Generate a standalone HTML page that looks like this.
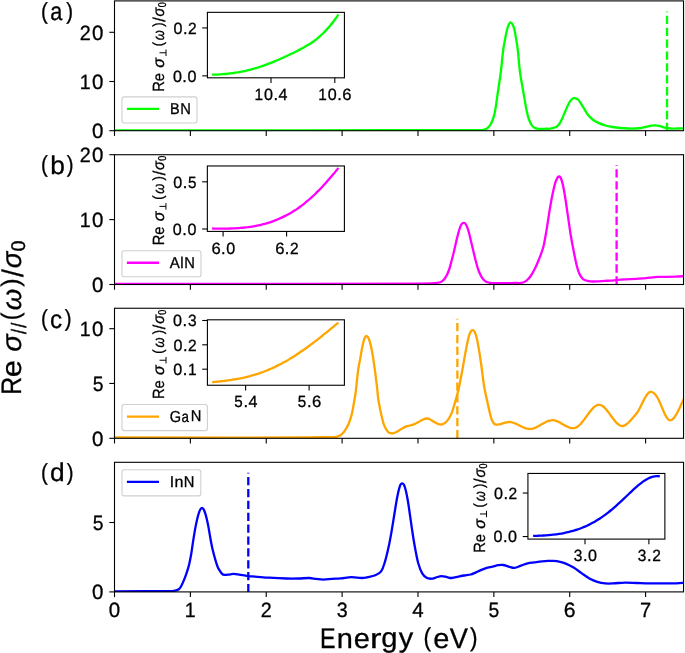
<!DOCTYPE html>
<html><head><meta charset="utf-8"><style>
html,body{margin:0;padding:0;background:#fff;overflow:hidden}
svg{display:block;will-change:transform}
text{font-family:"Liberation Sans", sans-serif;fill:#000;stroke:#000;stroke-width:0.3px;font-kerning:none;text-rendering:geometricPrecision}
</style></head><body>
<svg width="685" height="653" viewBox="0 0 685 653">
<defs><clipPath id="cp0"><rect x="114.50" y="0.90" width="569.03" height="129.80"/></clipPath><clipPath id="cp1"><rect x="114.50" y="154.72" width="569.03" height="129.78"/></clipPath><clipPath id="cp2"><rect x="114.50" y="308.25" width="569.03" height="130.05"/></clipPath><clipPath id="cp3"><rect x="114.50" y="462.30" width="569.03" height="129.60"/></clipPath></defs>
<rect width="685" height="653" fill="#fff"/>
<path d="M114.50,130.30 C145.42,130.30 238.17,130.32 300.00,130.30 C356.67,130.28 413.33,130.26 470.00,130.20 C472.67,130.20 475.33,130.18 478.00,130.10 C479.83,130.05 481.70,130.08 483.50,129.80 C484.53,129.64 485.60,129.30 486.50,128.80 C487.23,128.40 487.80,127.70 488.40,127.10 C489.07,126.43 489.83,125.81 490.30,125.00 C491.30,123.28 492.13,121.39 492.80,119.50 C493.66,117.06 494.43,114.55 494.90,112.00 C496.13,105.38 496.91,98.67 497.90,92.00 C498.86,85.50 499.93,79.02 500.75,72.50 C501.69,65.02 502.24,57.48 503.20,50.00 C503.63,46.65 504.28,43.32 504.90,40.00 C505.53,36.66 506.12,33.29 506.95,30.00 C507.42,28.16 507.96,26.27 508.80,24.60 C509.21,23.77 510.07,22.50 510.70,22.50 C511.33,22.50 512.18,23.77 512.60,24.60 C513.45,26.27 514.06,28.15 514.50,30.00 C515.29,33.28 515.75,36.66 516.30,40.00 C516.85,43.33 517.41,46.65 517.80,50.00 C518.66,57.49 519.06,65.03 520.05,72.50 C520.91,79.03 522.22,85.50 523.35,92.00 C524.51,98.67 525.54,105.37 526.90,112.00 C527.42,114.54 528.12,117.07 529.00,119.50 C529.69,121.40 530.54,123.30 531.60,125.00 C532.20,125.97 533.07,126.86 534.00,127.50 C534.87,128.10 535.95,128.50 537.00,128.70 C538.62,129.00 540.33,129.00 542.00,129.00 C543.33,129.00 544.66,128.75 546.00,128.70 C547.36,128.65 548.76,128.91 550.10,128.70 C552.03,128.39 553.96,127.78 555.81,127.14 C556.31,126.97 556.77,126.62 557.16,126.26 C558.00,125.49 558.86,124.67 559.51,123.73 C560.34,122.53 560.97,121.18 561.60,119.86 C562.35,118.31 562.97,116.70 563.65,115.11 C564.37,113.43 565.05,111.74 565.78,110.06 C566.47,108.47 567.14,106.86 567.90,105.31 C568.55,103.99 569.19,102.65 570.02,101.44 C570.65,100.51 571.41,99.59 572.28,98.91 C572.85,98.46 573.64,98.28 574.34,98.03 C574.48,97.98 574.66,97.94 574.80,98.00 C575.88,98.43 577.14,98.74 578.00,99.50 C579.18,100.54 580.01,102.05 580.90,103.40 C582.14,105.28 583.22,107.28 584.40,109.20 C585.55,111.08 586.54,113.09 587.90,114.80 C589.27,116.52 590.86,118.16 592.60,119.50 C594.36,120.86 596.38,121.95 598.40,122.90 C600.65,123.95 603.02,124.80 605.40,125.50 C607.68,126.17 610.05,126.60 612.40,127.00 C614.98,127.44 617.59,127.76 620.20,128.00 C622.92,128.26 625.66,128.41 628.40,128.50 C630.73,128.58 633.07,128.59 635.40,128.50 C637.34,128.42 639.29,128.31 641.20,128.00 C643.16,127.68 645.06,127.04 647.00,126.60 C648.56,126.24 650.12,125.83 651.70,125.60 C652.85,125.43 654.04,125.32 655.20,125.40 C656.78,125.52 658.36,125.84 659.90,126.20 C661.49,126.57 663.01,127.25 664.60,127.60 C666.51,128.02 668.45,128.36 670.40,128.50 C672.72,128.66 675.07,128.53 677.40,128.50 C679.60,128.47 682.90,128.33 684.00,128.30" fill="none" stroke="#00ff00" stroke-width="2.30" stroke-linejoin="round" clip-path="url(#cp0)"/>
<path d="M114.50,283.80 C145.42,283.80 238.17,283.84 300.00,283.80 C340.00,283.77 380.00,283.69 420.00,283.60 C423.33,283.59 426.67,283.63 430.00,283.50 C432.47,283.40 434.99,283.37 437.40,282.90 C439.09,282.57 440.93,282.08 442.30,281.10 C443.77,280.05 444.94,278.39 445.90,276.80 C447.18,274.69 448.16,272.34 449.00,270.00 C449.99,267.24 450.64,264.34 451.40,261.50 C452.27,258.24 453.11,254.98 453.90,251.70 C454.74,248.21 455.46,244.69 456.30,241.20 C457.09,237.92 457.84,234.63 458.80,231.40 C459.47,229.13 460.06,226.68 461.20,224.70 C461.69,223.84 462.87,222.90 463.70,222.90 C464.51,222.90 465.62,223.86 466.10,224.70 C467.25,226.70 467.92,229.12 468.60,231.40 C469.56,234.62 470.21,237.93 471.00,241.20 C471.84,244.70 472.66,248.20 473.50,251.70 C474.29,254.97 475.03,258.25 475.90,261.50 C476.66,264.35 477.39,267.23 478.40,270.00 C479.25,272.33 480.22,274.69 481.50,276.80 C482.46,278.39 483.63,280.05 485.10,281.10 C486.47,282.08 488.30,282.66 490.00,282.90 C493.26,283.36 496.67,283.19 500.00,283.20 C505.10,283.22 510.20,283.07 515.30,283.00 C517.33,282.97 519.40,283.15 521.40,282.90 C522.54,282.75 523.66,282.29 524.70,281.80 C525.50,281.42 526.27,280.89 526.91,280.27 C528.34,278.88 529.78,277.41 530.91,275.76 C532.46,273.50 533.75,271.02 534.96,268.55 C536.48,265.45 537.83,262.26 539.10,259.04 C540.56,255.34 542.07,251.62 543.13,247.79 C544.24,243.76 544.85,239.58 545.60,235.46 C546.37,231.24 547.02,226.99 547.70,222.75 C548.36,218.64 548.93,214.52 549.60,210.42 C550.21,206.66 550.86,202.91 551.56,199.17 C552.16,195.99 552.78,192.81 553.51,189.66 C554.07,187.24 554.65,184.81 555.41,182.44 C555.90,180.90 556.49,179.34 557.26,177.94 C557.59,177.33 558.19,176.85 558.71,176.41 C558.83,176.30 559.04,176.30 559.20,176.30 C559.33,176.30 559.51,176.31 559.60,176.41 C560.03,176.85 560.51,177.34 560.77,177.91 C561.40,179.32 561.87,180.84 562.27,182.34 C562.89,184.68 563.37,187.05 563.82,189.43 C564.41,192.53 564.91,195.66 565.40,198.78 C565.98,202.46 566.50,206.15 567.03,209.83 C567.62,213.87 568.17,217.92 568.76,221.96 C569.37,226.12 569.93,230.30 570.61,234.45 C571.28,238.50 572.05,242.54 572.81,246.57 C573.51,250.26 574.21,253.95 574.98,257.63 C575.64,260.75 576.24,263.90 577.09,266.97 C577.75,269.38 578.46,271.82 579.50,274.07 C580.23,275.66 581.28,277.16 582.40,278.49 C582.95,279.14 583.70,279.70 584.50,280.00 C586.30,280.67 588.27,281.19 590.20,281.40 C592.57,281.66 595.00,281.50 597.40,281.40 C599.94,281.30 602.46,280.94 605.00,280.80 C606.80,280.70 608.60,280.81 610.40,280.70 C612.40,280.58 614.40,280.27 616.40,280.10 C619.56,279.83 622.73,279.61 625.90,279.40 C629.30,279.18 632.70,279.02 636.10,278.80 C639.50,278.58 642.91,278.42 646.30,278.10 C648.28,277.92 650.23,277.50 652.20,277.30 C654.13,277.10 656.06,276.97 658.00,276.90 C660.93,276.80 663.87,276.85 666.80,276.80 C669.70,276.75 672.60,276.70 675.50,276.60 C678.33,276.50 682.58,276.27 684.00,276.20" fill="none" stroke="#ff00ff" stroke-width="2.30" stroke-linejoin="round" clip-path="url(#cp1)"/>
<path d="M114.50,437.50 C145.42,437.50 238.17,437.61 300.00,437.50 C310.00,437.48 320.00,437.24 330.00,437.10 C332.00,437.07 334.04,437.24 336.00,437.00 C337.00,436.88 337.97,436.42 338.90,436.00 C339.77,435.60 340.70,435.20 341.39,434.55 C342.74,433.29 343.99,431.82 345.02,430.27 C346.46,428.11 347.78,425.82 348.79,423.43 C350.02,420.53 350.96,417.46 351.73,414.40 C352.62,410.90 353.14,407.29 353.77,403.73 C354.46,399.84 355.17,395.94 355.71,392.03 C356.26,388.02 356.59,383.99 357.05,379.97 C357.49,376.07 357.84,372.15 358.42,368.27 C358.96,364.69 359.77,361.16 360.42,357.60 C360.97,354.60 361.43,351.58 362.00,348.58 C362.44,346.29 362.87,343.99 363.46,341.73 C363.84,340.28 364.29,338.81 364.90,337.45 C365.15,336.90 365.61,336.43 366.02,336.00 C366.11,335.91 366.27,335.90 366.40,335.90 C366.55,335.90 366.73,335.90 366.84,336.00 C367.29,336.39 367.80,336.83 368.09,337.37 C368.76,338.63 369.29,340.01 369.71,341.38 C370.36,343.49 370.86,345.66 371.32,347.82 C371.92,350.63 372.40,353.47 372.87,356.30 C373.42,359.64 373.92,362.98 374.39,366.33 C374.91,369.99 375.37,373.66 375.83,377.33 C376.30,381.10 376.76,384.88 377.19,388.66 C377.60,392.32 377.82,396.01 378.35,399.66 C378.84,403.02 379.55,406.36 380.23,409.69 C380.81,412.53 381.44,415.36 382.12,418.17 C382.65,420.33 383.13,422.52 383.86,424.61 C384.35,426.01 385.09,427.32 385.78,428.63 C386.03,429.11 386.37,429.55 386.70,429.99 C387.38,430.88 387.91,432.02 388.80,432.60 C389.65,433.16 390.87,433.13 391.90,433.40 C392.03,433.43 392.17,433.54 392.30,433.50 C393.67,433.07 395.09,432.63 396.40,432.00 C397.79,431.33 399.06,430.39 400.40,429.60 C401.96,428.69 403.45,427.62 405.10,426.90 C406.59,426.25 408.23,425.97 409.80,425.50 C411.37,425.03 412.99,424.71 414.50,424.10 C415.89,423.54 417.18,422.72 418.50,422.00 C419.88,421.25 421.17,420.31 422.60,419.70 C423.90,419.14 425.33,418.54 426.70,418.50 C427.87,418.47 429.11,419.00 430.20,419.50 C431.64,420.16 432.90,421.22 434.30,422.00 C435.64,422.75 436.96,423.65 438.40,424.10 C439.50,424.45 440.80,424.64 441.90,424.40 C443.13,424.14 444.42,423.43 445.40,422.60 C446.75,421.46 447.93,420.00 448.90,418.50 C450.06,416.70 451.03,414.71 451.80,412.70 C452.96,409.68 453.80,406.52 454.70,403.40 C456.00,398.92 457.35,394.44 458.40,389.90 C459.81,383.81 460.94,377.65 462.10,371.50 C463.37,364.78 464.37,358.01 465.70,351.30 C466.80,345.74 467.65,340.00 469.40,334.70 C469.98,332.94 471.62,330.10 472.70,330.10 C473.76,330.10 475.22,332.97 475.80,334.70 C477.18,338.81 477.83,343.27 478.60,347.60 C479.69,353.70 480.52,359.86 481.40,366.00 C482.36,372.73 482.98,379.50 484.10,386.20 C485.01,391.67 486.33,397.08 487.50,402.50 C488.33,406.31 489.15,410.12 490.10,413.90 C490.62,415.96 491.07,418.07 491.90,420.00 C492.54,421.48 493.46,422.98 494.50,424.13 C494.83,424.49 495.49,424.44 496.00,424.52 C496.49,424.60 497.00,424.62 497.50,424.61 C498.00,424.59 498.50,424.53 499.00,424.45 C499.50,424.37 500.00,424.25 500.50,424.12 C501.00,423.99 501.50,423.83 502.00,423.67 C502.50,423.52 503.00,423.34 503.50,423.18 C504.00,423.02 504.50,422.85 505.00,422.70 C505.50,422.56 506.00,422.42 506.50,422.31 C507.00,422.20 507.50,422.10 508.00,422.05 C508.50,422.00 509.00,421.99 509.50,422.01 C510.00,422.03 510.50,422.09 511.00,422.17 C511.50,422.25 512.01,422.37 512.50,422.51 C513.01,422.65 513.51,422.81 514.00,422.99 C514.51,423.18 515.01,423.38 515.50,423.59 C516.01,423.81 516.50,424.04 517.00,424.28 C517.50,424.51 518.00,424.76 518.50,425.01 C519.00,425.26 519.50,425.52 520.00,425.77 C520.50,426.02 521.00,426.27 521.50,426.51 C522.00,426.75 522.50,426.99 523.00,427.21 C523.50,427.43 523.99,427.64 524.50,427.84 C524.99,428.02 525.49,428.20 526.00,428.36 C526.49,428.50 526.99,428.64 527.50,428.74 C527.99,428.84 528.50,428.91 529.00,428.95 C529.50,428.99 530.00,428.99 530.50,428.96 C531.00,428.93 531.51,428.86 532.00,428.76 C532.51,428.66 533.01,428.53 533.50,428.38 C534.01,428.22 534.51,428.03 535.00,427.84 C535.51,427.63 536.01,427.40 536.50,427.17 C537.01,426.93 537.50,426.67 538.00,426.41 C538.50,426.14 539.00,425.86 539.50,425.58 C540.00,425.30 540.50,425.01 541.00,424.72 C541.50,424.43 542.00,424.14 542.50,423.86 C543.00,423.57 543.50,423.29 544.00,423.02 C544.50,422.75 544.99,422.48 545.50,422.23 C545.99,421.99 546.49,421.75 547.00,421.54 C547.49,421.33 547.99,421.13 548.50,420.96 C548.99,420.79 549.49,420.64 550.00,420.52 C550.49,420.41 551.00,420.32 551.50,420.27 C552.00,420.22 552.50,420.20 553.00,420.22 C553.50,420.24 554.01,420.31 554.50,420.40 C555.01,420.50 555.51,420.64 556.00,420.80 C556.51,420.97 557.01,421.17 557.50,421.38 C558.01,421.60 558.51,421.84 559.00,422.10 C559.51,422.35 560.00,422.63 560.50,422.91 C561.00,423.19 561.50,423.49 562.00,423.78 C562.50,424.07 563.00,424.38 563.50,424.67 C564.00,424.96 564.50,425.26 565.00,425.54 C565.50,425.82 565.99,426.09 566.50,426.35 C566.99,426.60 567.49,426.84 568.00,427.06 C568.49,427.27 568.99,427.47 569.50,427.63 C569.99,427.79 570.49,427.92 571.00,428.02 C571.49,428.11 572.00,428.18 572.50,428.19 C573.00,428.21 573.51,428.19 574.00,428.11 C574.51,428.03 575.02,427.90 575.50,427.73 C576.02,427.54 576.53,427.29 577.00,427.01 C577.53,426.69 578.03,426.32 578.50,425.93 C579.03,425.50 579.52,425.03 580.00,424.55 C580.52,424.02 581.02,423.47 581.50,422.91 C582.02,422.31 582.51,421.69 583.00,421.07 C583.51,420.42 584.01,419.76 584.50,419.10 C585.01,418.42 585.50,417.74 586.00,417.06 C586.50,416.37 587.00,415.68 587.50,414.99 C588.00,414.31 588.49,413.63 589.00,412.96 C589.49,412.31 589.99,411.67 590.50,411.03 C590.99,410.43 591.48,409.84 592.00,409.26 C592.48,408.73 592.98,408.20 593.50,407.71 C593.98,407.26 594.47,406.82 595.00,406.43 C595.47,406.07 595.97,405.74 596.50,405.48 C596.97,405.24 597.48,405.03 598.00,404.92 C598.48,404.81 599.01,404.76 599.50,404.81 C600.01,404.85 600.53,405.00 601.00,405.19 C601.53,405.40 602.03,405.70 602.50,406.02 C603.03,406.38 603.53,406.79 604.00,407.22 C604.53,407.70 605.02,408.22 605.50,408.74 C606.02,409.31 606.51,409.90 607.00,410.50 C607.51,411.13 608.01,411.77 608.50,412.42 C609.01,413.09 609.50,413.77 610.00,414.45 C610.50,415.13 611.00,415.82 611.50,416.51 C612.00,417.18 612.49,417.86 613.00,418.53 C613.49,419.17 613.99,419.82 614.50,420.44 C614.99,421.03 615.48,421.62 616.00,422.18 C616.48,422.70 616.97,423.21 617.50,423.68 C617.97,424.10 618.47,424.51 619.00,424.86 C619.47,425.17 619.98,425.46 620.50,425.66 C620.98,425.84 621.49,425.97 622.00,426.00 C622.49,426.03 623.02,425.97 623.50,425.85 C624.02,425.72 624.53,425.50 625.00,425.25 C625.53,424.98 626.02,424.63 626.50,424.28 C627.02,423.89 627.52,423.46 628.00,423.01 C628.52,422.54 629.01,422.03 629.50,421.53 C630.01,421.00 630.51,420.45 631.00,419.90 C631.51,419.33 632.00,418.76 632.50,418.19 C633.00,417.63 633.50,417.06 634.00,416.49 C634.50,415.91 635.02,415.33 635.50,414.73 C636.02,414.10 636.53,413.45 637.00,412.79 C637.53,412.04 638.03,411.28 638.50,410.50 C639.03,409.62 639.52,408.71 640.00,407.79 C640.52,406.80 641.01,405.79 641.50,404.79 C642.01,403.76 642.49,402.72 643.00,401.70 C643.49,400.70 643.98,399.70 644.50,398.72 C644.98,397.82 645.46,396.92 646.00,396.06 C646.46,395.32 646.94,394.58 647.50,393.92 C647.94,393.40 648.44,392.89 649.00,392.51 C649.44,392.21 649.98,391.97 650.50,391.88 C650.98,391.80 651.53,391.86 652.00,392.00 C652.53,392.16 653.05,392.46 653.50,392.80 C654.05,393.21 654.55,393.71 655.00,394.23 C655.55,394.85 656.04,395.54 656.50,396.23 C657.04,397.04 657.53,397.89 658.00,398.75 C658.53,399.73 659.03,400.73 659.50,401.74 C660.03,402.86 660.51,403.99 661.00,405.12 C661.51,406.31 662.00,407.51 662.50,408.70 C663.00,409.87 663.48,411.05 664.00,412.21 C664.48,413.28 664.96,414.35 665.50,415.38 C665.96,416.26 666.43,417.14 667.00,417.95 C667.43,418.56 667.92,419.18 668.50,419.64 C668.92,419.97 669.48,420.23 670.00,420.30 C670.48,420.37 671.05,420.23 671.50,420.03 C672.05,419.79 672.56,419.37 673.00,418.96 C673.56,418.43 674.04,417.82 674.50,417.20 C675.04,416.47 675.53,415.69 676.00,414.91 C676.53,414.02 677.02,413.11 677.50,412.19 C678.02,411.20 678.51,410.19 679.00,409.19 C679.51,408.14 680.00,407.08 680.50,406.02 C681.00,404.96 681.49,403.89 682.00,402.83 C682.49,401.80 682.98,400.76 683.50,399.74 C683.98,398.77 684.75,397.35 685.00,396.87" fill="none" stroke="#ffa500" stroke-width="2.30" stroke-linejoin="round" clip-path="url(#cp2)"/>
<path d="M114.50,591.30 C122.08,591.28 144.83,591.25 160.00,591.20 C163.33,591.19 166.67,591.16 170.00,591.10 C171.33,591.08 172.71,591.21 174.00,590.95 C175.64,590.61 177.49,590.23 178.81,589.30 C179.94,588.51 180.66,587.04 181.37,585.78 C182.38,583.99 183.17,582.05 183.95,580.14 C184.95,577.69 185.90,575.21 186.72,572.70 C187.67,569.80 188.53,566.86 189.25,563.90 C190.02,560.72 190.61,557.49 191.17,554.26 C191.74,550.96 192.13,547.63 192.64,544.32 C193.13,541.10 193.63,537.89 194.17,534.68 C194.66,531.74 195.16,528.80 195.73,525.88 C196.21,523.39 196.74,520.91 197.33,518.45 C197.79,516.55 198.27,514.65 198.89,512.80 C199.30,511.59 199.78,510.37 200.41,509.28 C200.69,508.80 201.17,508.42 201.60,508.08 C201.70,508.00 201.87,508.00 202.00,508.00 C202.12,508.00 202.26,508.00 202.36,508.07 C202.71,508.31 203.10,508.58 203.34,508.94 C203.85,509.72 204.27,510.61 204.61,511.49 C205.12,512.82 205.53,514.20 205.91,515.58 C206.40,517.37 206.83,519.17 207.23,520.98 C207.70,523.10 208.13,525.23 208.53,527.36 C208.96,529.69 209.33,532.03 209.73,534.36 C210.14,536.76 210.52,539.17 210.97,541.56 C211.41,543.90 211.85,546.24 212.38,548.56 C212.87,550.70 213.45,552.82 214.02,554.94 C214.50,556.74 215.01,558.54 215.53,560.33 C215.93,561.70 216.32,563.07 216.76,564.43 C217.04,565.29 217.36,566.13 217.67,566.98 C217.78,567.27 217.86,567.59 218.03,567.85 C219.34,569.89 220.49,572.20 222.10,573.90 C222.71,574.55 223.80,574.80 224.70,574.90 C225.93,575.03 227.24,574.75 228.50,574.60 C230.11,574.41 231.70,573.86 233.30,573.90 C235.90,573.96 238.51,574.51 241.10,574.90 C243.54,575.27 245.95,575.90 248.40,576.20 C250.58,576.47 252.80,576.44 255.00,576.60 C259.67,576.94 264.33,577.42 269.00,577.70 C274.83,578.05 280.66,578.34 286.50,578.50 C290.60,578.61 294.70,578.59 298.80,578.50 C302.30,578.42 305.81,577.92 309.30,578.00 C311.64,578.05 313.96,578.63 316.30,578.90 C318.63,579.17 320.96,579.60 323.30,579.60 C326.23,579.60 329.16,579.10 332.10,578.90 C335.00,578.70 337.91,578.67 340.80,578.40 C344.34,578.07 347.86,577.17 351.40,577.10 C354.89,577.03 358.41,577.98 361.90,578.00 C363.84,578.01 365.79,577.58 367.70,577.20 C370.26,576.68 372.94,576.32 375.30,575.30 C377.41,574.39 379.80,573.21 381.10,571.40 C383.00,568.75 383.90,565.15 384.90,561.90 C386.44,556.89 387.58,551.73 388.70,546.60 C389.81,541.50 390.70,536.35 391.60,531.20 C392.60,525.48 393.45,519.73 394.40,514.00 C395.35,508.26 396.19,502.50 397.30,496.80 C397.99,493.27 398.61,489.63 399.80,486.30 C400.21,485.16 401.31,483.40 402.10,483.40 C402.91,483.40 404.18,485.12 404.60,486.30 C405.98,490.22 406.73,494.53 407.50,498.70 C408.56,504.40 409.25,510.16 410.10,515.90 C410.95,521.66 411.70,527.44 412.60,533.20 C413.50,538.94 414.42,544.69 415.50,550.40 C416.35,554.89 417.12,559.43 418.40,563.80 C419.35,567.06 420.48,570.43 422.20,573.30 C423.34,575.20 425.13,577.05 427.00,578.10 C428.33,578.85 430.22,578.79 431.80,578.70 C433.12,578.62 434.40,577.95 435.70,577.60 C437.60,577.09 439.49,576.17 441.40,576.10 C443.29,576.03 445.20,576.85 447.10,577.20 C448.66,577.49 450.24,578.08 451.80,578.00 C454.04,577.88 456.26,577.05 458.50,576.60 C460.40,576.22 462.29,575.83 464.20,575.50 C466.39,575.13 468.66,575.05 470.80,574.50 C472.43,574.08 473.95,573.27 475.50,572.60 C477.12,571.90 478.68,571.09 480.30,570.40 C482.18,569.59 484.05,568.70 486.00,568.10 C488.15,567.44 490.40,567.12 492.60,566.60 C494.50,566.15 496.38,565.49 498.30,565.20 C499.88,564.96 501.53,564.79 503.10,565.00 C505.00,565.26 506.82,566.12 508.70,566.60 C510.59,567.08 512.53,568.05 514.40,567.90 C516.66,567.72 518.87,566.37 521.10,565.60 C523.30,564.84 525.45,563.84 527.70,563.30 C529.88,562.78 532.17,562.70 534.40,562.40 C536.93,562.06 539.46,561.69 542.00,561.40 C543.86,561.19 545.73,560.98 547.60,560.90 C549.50,560.82 551.41,560.76 553.30,560.90 C555.54,561.06 557.81,561.33 560.00,561.80 C561.97,562.23 563.94,562.81 565.80,563.60 C568.48,564.74 571.11,566.09 573.60,567.60 C576.34,569.26 578.85,571.29 581.50,573.10 C584.12,574.89 586.63,576.88 589.40,578.40 C591.90,579.78 594.58,580.94 597.30,581.80 C599.85,582.61 602.54,583.13 605.20,583.40 C607.81,583.66 610.47,583.51 613.10,583.40 C617.04,583.24 620.96,582.67 624.90,582.60 C628.83,582.53 632.77,582.87 636.70,583.00 C640.63,583.13 644.57,583.33 648.50,583.40 C652.47,583.47 656.43,583.40 660.40,583.40 C664.33,583.40 668.27,583.53 672.20,583.40 C676.47,583.26 682.87,582.73 685.00,582.60" fill="none" stroke="#0000ff" stroke-width="2.30" stroke-linejoin="round" clip-path="url(#cp3)"/>
<line x1="667.00" y1="11.62" x2="667.00" y2="130.70" stroke="#00ff00" stroke-width="2.30" stroke-dasharray="8.3,3.58" stroke-dashoffset="7.7"/>
<line x1="616.60" y1="165.12" x2="616.60" y2="284.50" stroke="#ff00ff" stroke-width="2.30" stroke-dasharray="8.3,3.58" stroke-dashoffset="7.7"/>
<line x1="457.35" y1="318.82" x2="457.35" y2="438.30" stroke="#ffa500" stroke-width="2.30" stroke-dasharray="8.3,3.58" stroke-dashoffset="7.7"/>
<line x1="248.30" y1="472.82" x2="248.30" y2="591.90" stroke="#0000ff" stroke-width="2.30" stroke-dasharray="8.3,3.58" stroke-dashoffset="7.7"/>
<rect x="114.50" y="0.90" width="569.03" height="129.80" fill="none" stroke="#000" stroke-width="1.10"/>
<line x1="114.50" y1="130.70" x2="114.50" y2="135.90" stroke="#000" stroke-width="1.10"/>
<line x1="190.37" y1="130.70" x2="190.37" y2="135.90" stroke="#000" stroke-width="1.10"/>
<line x1="266.24" y1="130.70" x2="266.24" y2="135.90" stroke="#000" stroke-width="1.10"/>
<line x1="342.11" y1="130.70" x2="342.11" y2="135.90" stroke="#000" stroke-width="1.10"/>
<line x1="417.98" y1="130.70" x2="417.98" y2="135.90" stroke="#000" stroke-width="1.10"/>
<line x1="493.85" y1="130.70" x2="493.85" y2="135.90" stroke="#000" stroke-width="1.10"/>
<line x1="569.72" y1="130.70" x2="569.72" y2="135.90" stroke="#000" stroke-width="1.10"/>
<line x1="645.59" y1="130.70" x2="645.59" y2="135.90" stroke="#000" stroke-width="1.10"/>
<rect x="114.50" y="154.72" width="569.03" height="129.78" fill="none" stroke="#000" stroke-width="1.10"/>
<line x1="114.50" y1="284.50" x2="114.50" y2="289.70" stroke="#000" stroke-width="1.10"/>
<line x1="190.37" y1="284.50" x2="190.37" y2="289.70" stroke="#000" stroke-width="1.10"/>
<line x1="266.24" y1="284.50" x2="266.24" y2="289.70" stroke="#000" stroke-width="1.10"/>
<line x1="342.11" y1="284.50" x2="342.11" y2="289.70" stroke="#000" stroke-width="1.10"/>
<line x1="417.98" y1="284.50" x2="417.98" y2="289.70" stroke="#000" stroke-width="1.10"/>
<line x1="493.85" y1="284.50" x2="493.85" y2="289.70" stroke="#000" stroke-width="1.10"/>
<line x1="569.72" y1="284.50" x2="569.72" y2="289.70" stroke="#000" stroke-width="1.10"/>
<line x1="645.59" y1="284.50" x2="645.59" y2="289.70" stroke="#000" stroke-width="1.10"/>
<rect x="114.50" y="308.25" width="569.03" height="130.05" fill="none" stroke="#000" stroke-width="1.10"/>
<line x1="114.50" y1="438.30" x2="114.50" y2="443.50" stroke="#000" stroke-width="1.10"/>
<line x1="190.37" y1="438.30" x2="190.37" y2="443.50" stroke="#000" stroke-width="1.10"/>
<line x1="266.24" y1="438.30" x2="266.24" y2="443.50" stroke="#000" stroke-width="1.10"/>
<line x1="342.11" y1="438.30" x2="342.11" y2="443.50" stroke="#000" stroke-width="1.10"/>
<line x1="417.98" y1="438.30" x2="417.98" y2="443.50" stroke="#000" stroke-width="1.10"/>
<line x1="493.85" y1="438.30" x2="493.85" y2="443.50" stroke="#000" stroke-width="1.10"/>
<line x1="569.72" y1="438.30" x2="569.72" y2="443.50" stroke="#000" stroke-width="1.10"/>
<line x1="645.59" y1="438.30" x2="645.59" y2="443.50" stroke="#000" stroke-width="1.10"/>
<rect x="114.50" y="462.30" width="569.03" height="129.60" fill="none" stroke="#000" stroke-width="1.10"/>
<line x1="114.50" y1="591.90" x2="114.50" y2="597.10" stroke="#000" stroke-width="1.10"/>
<line x1="190.37" y1="591.90" x2="190.37" y2="597.10" stroke="#000" stroke-width="1.10"/>
<line x1="266.24" y1="591.90" x2="266.24" y2="597.10" stroke="#000" stroke-width="1.10"/>
<line x1="342.11" y1="591.90" x2="342.11" y2="597.10" stroke="#000" stroke-width="1.10"/>
<line x1="417.98" y1="591.90" x2="417.98" y2="597.10" stroke="#000" stroke-width="1.10"/>
<line x1="493.85" y1="591.90" x2="493.85" y2="597.10" stroke="#000" stroke-width="1.10"/>
<line x1="569.72" y1="591.90" x2="569.72" y2="597.10" stroke="#000" stroke-width="1.10"/>
<line x1="645.59" y1="591.90" x2="645.59" y2="597.10" stroke="#000" stroke-width="1.10"/>
<line x1="109.30" y1="130.70" x2="114.50" y2="130.70" stroke="#000" stroke-width="1.10"/>
<text transform="translate(92.05,138.02) scale(0.9868,1)" font-size="20.77">0</text>
<line x1="109.30" y1="81.50" x2="114.50" y2="81.50" stroke="#000" stroke-width="1.10"/>
<text transform="translate(79.85,88.75) scale(0.9502,1)" font-size="20.60">1</text><text transform="translate(92.05,88.82) scale(0.9868,1)" font-size="20.77">0</text>
<line x1="109.30" y1="32.30" x2="114.50" y2="32.30" stroke="#000" stroke-width="1.10"/>
<text transform="translate(79.63,39.55) scale(0.9559,1)" font-size="20.66">2</text><text transform="translate(92.05,39.62) scale(0.9868,1)" font-size="20.77">0</text>
<line x1="109.30" y1="284.50" x2="114.50" y2="284.50" stroke="#000" stroke-width="1.10"/>
<text transform="translate(92.05,291.82) scale(0.9868,1)" font-size="20.77">0</text>
<line x1="109.30" y1="219.60" x2="114.50" y2="219.60" stroke="#000" stroke-width="1.10"/>
<text transform="translate(79.85,226.85) scale(0.9502,1)" font-size="20.60">1</text><text transform="translate(92.05,226.92) scale(0.9868,1)" font-size="20.77">0</text>
<line x1="109.30" y1="154.70" x2="114.50" y2="154.70" stroke="#000" stroke-width="1.10"/>
<text transform="translate(79.63,161.95) scale(0.9559,1)" font-size="20.66">2</text><text transform="translate(92.05,162.02) scale(0.9868,1)" font-size="20.77">0</text>
<line x1="109.30" y1="438.30" x2="114.50" y2="438.30" stroke="#000" stroke-width="1.10"/>
<text transform="translate(92.05,445.62) scale(0.9868,1)" font-size="20.77">0</text>
<line x1="109.30" y1="383.45" x2="114.50" y2="383.45" stroke="#000" stroke-width="1.10"/>
<text transform="translate(92.71,390.77) scale(0.9341,1)" font-size="20.71">5</text>
<line x1="109.30" y1="328.70" x2="114.50" y2="328.70" stroke="#000" stroke-width="1.10"/>
<text transform="translate(79.85,335.95) scale(0.9502,1)" font-size="20.60">1</text><text transform="translate(92.05,336.02) scale(0.9868,1)" font-size="20.77">0</text>
<line x1="109.30" y1="591.90" x2="114.50" y2="591.90" stroke="#000" stroke-width="1.10"/>
<text transform="translate(92.05,599.22) scale(0.9868,1)" font-size="20.77">0</text>
<line x1="109.30" y1="522.50" x2="114.50" y2="522.50" stroke="#000" stroke-width="1.10"/>
<text transform="translate(92.71,529.82) scale(0.9341,1)" font-size="20.71">5</text>
<text transform="translate(108.80,616.87) scale(0.9868,1)" font-size="20.77">0</text>
<text transform="translate(184.66,616.80) scale(0.9502,1)" font-size="20.60">1</text>
<text transform="translate(260.75,616.80) scale(0.9559,1)" font-size="20.66">2</text>
<text transform="translate(336.70,616.87) scale(0.9477,1)" font-size="20.77">3</text>
<text transform="translate(412.35,616.80) scale(0.9949,1)" font-size="20.60">4</text>
<text transform="translate(488.49,616.87) scale(0.9341,1)" font-size="20.71">5</text>
<text transform="translate(563.75,616.87) scale(1.0213,1)" font-size="20.77">6</text>
<text transform="translate(640.01,616.80) scale(0.9731,1)" font-size="20.60">7</text>
<text transform="translate(41.03,18.80) scale(0.8842,1)" font-size="23.13">(</text><text transform="translate(50.19,20.49) scale(0.8579,1)" font-size="25.36">a</text><text transform="translate(66.31,18.80) scale(0.8842,1)" font-size="23.13">)</text>
<text transform="translate(41.03,171.90) scale(0.8842,1)" font-size="23.13">(</text><text transform="translate(50.16,173.59) scale(1.0323,1)" font-size="25.50">b</text><text transform="translate(66.84,171.90) scale(0.8842,1)" font-size="23.13">)</text>
<text transform="translate(41.03,325.90) scale(0.8842,1)" font-size="23.13">(</text><text transform="translate(49.97,327.59) scale(0.9573,1)" font-size="25.36">c</text><text transform="translate(64.78,325.90) scale(0.8842,1)" font-size="23.13">)</text>
<text transform="translate(41.03,479.80) scale(0.8842,1)" font-size="23.13">(</text><text transform="translate(49.89,481.49) scale(1.0313,1)" font-size="25.50">d</text><text transform="translate(66.84,479.80) scale(0.8842,1)" font-size="23.13">)</text>
<text transform="translate(320.09,647.60) scale(0.8179,1)" font-size="28.50">E</text><text transform="translate(336.87,647.60) scale(1.0359,1)" font-size="28.00">n</text><text transform="translate(353.66,647.71) scale(1.0305,1)" font-size="28.19">e</text><text transform="translate(370.11,647.60) scale(1.2310,1)" font-size="28.00">r</text><text transform="translate(381.27,647.43) scale(1.0530,1)" font-size="27.76">g</text><text transform="translate(398.82,647.47) scale(1.0468,1)" font-size="27.60">y</text><text transform="translate(423.46,645.82) scale(0.8842,1)" font-size="25.72">(</text><text transform="translate(433.30,647.71) scale(1.0305,1)" font-size="28.19">e</text><text transform="translate(449.69,647.60) scale(0.9577,1)" font-size="28.50">V</text><text transform="translate(470.03,645.82) scale(0.8842,1)" font-size="25.72">)</text>
<g transform="rotate(-90)"><text transform="translate(-394.64,20.50) scale(0.8844,1)" font-size="28.19">R</text><text transform="translate(-377.21,20.60) scale(1.1084,1)" font-size="27.88">e</text><text transform="translate(-351.85,20.61) scale(1.0309,1)" font-size="27.76" font-style="italic">σ</text><text transform="translate(-334.10,26.22) scale(0.8810,1)" font-size="20.84">/</text><text transform="translate(-327.70,26.22) scale(0.8810,1)" font-size="20.84">/</text><text transform="translate(-320.23,18.74) scale(0.9048,1)" font-size="25.43">(</text><text transform="translate(-310.20,20.61) scale(1.0081,1)" font-size="27.22" font-style="italic">ω</text><text transform="translate(-286.75,18.74) scale(0.9789,1)" font-size="25.43">)</text><text transform="translate(-276.90,22.68) scale(0.9432,1)" font-size="29.77">/</text><text transform="translate(-268.21,20.61) scale(0.9889,1)" font-size="27.76" font-style="italic">σ</text><text transform="translate(-251.58,24.77) scale(0.9991,1)" font-size="19.89">0</text></g>
<rect x="121.97" y="96.90" width="75.03" height="26.10" rx="2.4" fill="#fff" fill-opacity="0.8" stroke="#cfcfcf" stroke-width="1.1"/>
<line x1="126.9" y1="108.94" x2="159.0" y2="108.94" stroke="#00ff00" stroke-width="2.30"/>
<text transform="translate(169.97,113.86) scale(0.9169,1)" font-size="15.79">B</text><text transform="translate(180.18,113.86) scale(0.9322,1)" font-size="15.79">N</text>
<rect x="121.97" y="250.70" width="79.03" height="26.10" rx="2.4" fill="#fff" fill-opacity="0.8" stroke="#cfcfcf" stroke-width="1.1"/>
<line x1="126.9" y1="262.74" x2="159.0" y2="262.74" stroke="#ff00ff" stroke-width="2.30"/>
<text transform="translate(169.79,267.66) scale(0.9507,1)" font-size="15.79">A</text><text transform="translate(180.27,267.66) scale(0.9749,1)" font-size="15.62">l</text><text transform="translate(184.29,267.66) scale(0.9322,1)" font-size="15.79">N</text>
<rect x="121.97" y="404.50" width="85.43" height="26.10" rx="2.4" fill="#fff" fill-opacity="0.8" stroke="#cfcfcf" stroke-width="1.1"/>
<line x1="126.9" y1="416.54" x2="159.0" y2="416.54" stroke="#ffa500" stroke-width="2.30"/>
<text transform="translate(169.81,421.52) scale(0.9130,1)" font-size="15.92">G</text><text transform="translate(181.57,421.52) scale(0.8579,1)" font-size="15.62">a</text><text transform="translate(190.63,421.46) scale(0.9322,1)" font-size="15.79">N</text>
<rect x="121.97" y="469.80" width="78.83" height="26.10" rx="2.4" fill="#fff" fill-opacity="0.8" stroke="#cfcfcf" stroke-width="1.1"/>
<line x1="126.9" y1="481.84" x2="159.0" y2="481.84" stroke="#0000ff" stroke-width="2.30"/>
<text transform="translate(169.71,486.76) scale(0.9981,1)" font-size="15.79">I</text><text transform="translate(174.38,486.76) scale(1.0359,1)" font-size="15.51">n</text><text transform="translate(183.79,486.76) scale(0.9322,1)" font-size="15.79">N</text>
<rect x="207.40" y="12.35" width="137.02" height="65.46" fill="#fff"/>
<path d="M212.10,74.69 C212.53,74.68 213.82,74.66 214.68,74.63 C215.54,74.60 216.40,74.57 217.26,74.53 C218.11,74.49 218.97,74.45 219.83,74.40 C220.69,74.34 221.55,74.29 222.41,74.22 C223.27,74.15 224.13,74.08 224.99,74.00 C225.85,73.93 226.71,73.84 227.57,73.75 C228.43,73.65 229.28,73.56 230.14,73.45 C231.00,73.34 231.86,73.23 232.72,73.11 C233.58,72.99 234.44,72.86 235.30,72.73 C236.16,72.59 237.02,72.45 237.88,72.30 C238.74,72.15 239.60,72.00 240.45,71.83 C241.31,71.67 242.17,71.50 243.03,71.32 C243.89,71.14 244.75,70.96 245.61,70.77 C246.47,70.57 247.33,70.37 248.19,70.16 C249.05,69.96 249.91,69.74 250.76,69.52 C251.62,69.29 252.48,69.06 253.34,68.83 C254.20,68.59 255.06,68.34 255.92,68.09 C256.78,67.83 257.64,67.57 258.50,67.30 C259.36,67.03 260.22,66.75 261.07,66.47 C261.93,66.18 262.79,65.89 263.65,65.58 C264.51,65.28 265.37,64.97 266.23,64.66 C267.09,64.34 267.95,64.02 268.81,63.69 C269.67,63.36 270.53,63.03 271.38,62.68 C272.25,62.34 273.10,61.99 273.96,61.64 C274.82,61.28 275.68,60.92 276.54,60.56 C277.40,60.19 278.26,59.82 279.12,59.44 C279.98,59.07 280.84,58.69 281.69,58.30 C282.55,57.91 283.41,57.52 284.27,57.13 C285.13,56.73 285.99,56.33 286.85,55.93 C287.71,55.53 288.57,55.12 289.43,54.71 C290.29,54.30 291.15,53.88 292.00,53.46 C292.86,53.05 293.72,52.63 294.58,52.20 C295.44,51.78 296.30,51.35 297.16,50.92 C298.02,50.49 298.88,50.05 299.74,49.61 C300.60,49.16 301.46,48.71 302.31,48.25 C303.18,47.78 304.04,47.31 304.89,46.82 C305.76,46.33 306.62,45.82 307.47,45.31 C308.34,44.78 309.20,44.25 310.05,43.69 C310.92,43.13 311.78,42.55 312.62,41.96 C313.49,41.35 314.36,40.72 315.20,40.08 C316.07,39.42 316.93,38.75 317.78,38.05 C318.65,37.33 319.51,36.60 320.36,35.85 C321.23,35.06 322.09,34.27 322.93,33.45 C323.81,32.60 324.67,31.74 325.51,30.85 C326.39,29.93 327.25,29.00 328.09,28.05 C328.97,27.05 329.83,26.04 330.67,25.02 C331.55,23.95 332.41,22.86 333.24,21.76 C334.12,20.61 334.98,19.44 335.82,18.26 C336.70,17.03 337.97,15.14 338.40,14.51" fill="none" stroke="#00ff00" stroke-width="2.30" stroke-linejoin="round"/>
<rect x="207.40" y="12.35" width="137.02" height="65.46" fill="none" stroke="#000" stroke-width="1.10"/>
<line x1="202.20" y1="75.86" x2="207.40" y2="75.86" stroke="#000" stroke-width="1.10"/>
<text transform="translate(172.89,81.67) scale(0.9868,1)" font-size="16.32">0</text><text transform="translate(182.36,81.61) scale(0.9329,1)" font-size="17.72">.</text><text transform="translate(187.47,81.67) scale(0.9868,1)" font-size="16.32">0</text>
<line x1="202.20" y1="27.93" x2="207.40" y2="27.93" stroke="#000" stroke-width="1.10"/>
<text transform="translate(173.41,33.74) scale(0.9868,1)" font-size="16.32">0</text><text transform="translate(182.88,33.68) scale(0.9329,1)" font-size="17.72">.</text><text transform="translate(187.95,33.68) scale(0.9559,1)" font-size="16.24">2</text>
<line x1="271.00" y1="77.81" x2="271.00" y2="83.01" stroke="#000" stroke-width="1.10"/>
<text transform="translate(254.39,99.91) scale(0.9502,1)" font-size="16.19">1</text><text transform="translate(263.98,99.97) scale(0.9868,1)" font-size="16.32">0</text><text transform="translate(273.45,99.91) scale(0.9329,1)" font-size="17.72">.</text><text transform="translate(278.56,99.91) scale(0.9949,1)" font-size="16.19">4</text>
<line x1="334.80" y1="77.81" x2="334.80" y2="83.01" stroke="#000" stroke-width="1.10"/>
<text transform="translate(318.24,99.91) scale(0.9502,1)" font-size="16.19">1</text><text transform="translate(327.83,99.97) scale(0.9868,1)" font-size="16.32">0</text><text transform="translate(337.30,99.91) scale(0.9329,1)" font-size="17.72">.</text><text transform="translate(342.25,99.97) scale(1.0213,1)" font-size="16.32">6</text>
<g transform="rotate(-90)"><text transform="translate(-91.65,164.00) scale(0.9154,1)" font-size="16.19">R</text><text transform="translate(-81.15,164.06) scale(0.9182,1)" font-size="16.02">e</text><text transform="translate(-67.66,164.06) scale(1.0016,1)" font-size="15.95" font-style="italic">σ</text><text transform="translate(-46.23,162.99) scale(0.8779,1)" font-size="14.61">(</text><text transform="translate(-40.15,164.06) scale(0.8238,1)" font-size="15.63" font-style="italic">ω</text><text transform="translate(-26.81,162.99) scale(0.9037,1)" font-size="14.61">)</text><text transform="translate(-21.73,165.25) scale(0.9683,1)" font-size="17.10">/</text><text transform="translate(-16.42,164.06) scale(0.9182,1)" font-size="15.95" font-style="italic">σ</text><text transform="translate(-7.18,166.44) scale(0.7872,1)" font-size="11.43">0</text></g>
<line x1="166.00" y1="49.53" x2="166.00" y2="56.03" stroke="#000" stroke-width="1.0"/>
<line x1="159.50" y1="52.78" x2="166.00" y2="52.78" stroke="#000" stroke-width="1.0"/>
<rect x="207.35" y="165.97" width="137.05" height="65.45" fill="#fff"/>
<path d="M212.10,228.48 C212.53,228.48 213.82,228.51 214.68,228.53 C215.54,228.55 216.40,228.56 217.26,228.57 C218.11,228.58 218.97,228.59 219.83,228.60 C220.69,228.61 221.55,228.61 222.41,228.61 C223.27,228.61 224.13,228.61 224.99,228.60 C225.85,228.59 226.71,228.58 227.57,228.57 C228.42,228.55 229.28,228.53 230.14,228.51 C231.00,228.48 231.86,228.45 232.72,228.42 C233.58,228.38 234.44,228.35 235.30,228.30 C236.16,228.25 237.02,228.20 237.88,228.15 C238.74,228.09 239.59,228.03 240.45,227.96 C241.31,227.89 242.17,227.81 243.03,227.73 C243.89,227.64 244.75,227.55 245.61,227.45 C246.47,227.35 247.33,227.25 248.19,227.14 C249.05,227.02 249.91,226.90 250.76,226.77 C251.62,226.64 252.48,226.50 253.34,226.35 C254.20,226.21 255.06,226.05 255.92,225.88 C256.78,225.72 257.64,225.54 258.50,225.36 C259.36,225.17 260.22,224.98 261.07,224.77 C261.93,224.57 262.79,224.35 263.65,224.12 C264.51,223.90 265.37,223.66 266.23,223.41 C267.09,223.16 267.95,222.90 268.81,222.63 C269.67,222.36 270.53,222.08 271.38,221.79 C272.25,221.49 273.11,221.18 273.96,220.86 C274.82,220.54 275.68,220.21 276.54,219.87 C277.40,219.52 278.26,219.16 279.12,218.79 C279.98,218.42 280.84,218.03 281.69,217.63 C282.56,217.23 283.42,216.82 284.27,216.39 C285.14,215.96 286.00,215.52 286.85,215.07 C287.71,214.60 288.57,214.13 289.43,213.65 C290.29,213.16 291.15,212.65 292.00,212.14 C292.87,211.62 293.73,211.08 294.58,210.53 C295.45,209.98 296.31,209.41 297.16,208.83 C298.03,208.24 298.89,207.64 299.74,207.03 C300.60,206.41 301.46,205.77 302.31,205.13 C303.18,204.47 304.04,203.80 304.89,203.11 C305.76,202.42 306.62,201.71 307.47,200.99 C308.34,200.26 309.20,199.52 310.05,198.76 C310.92,197.99 311.77,197.21 312.62,196.42 C313.49,195.61 314.35,194.79 315.20,193.96 C316.07,193.12 316.93,192.27 317.78,191.41 C318.65,190.53 319.51,189.64 320.36,188.75 C321.22,187.84 322.08,186.93 322.93,186.01 C323.80,185.07 324.66,184.13 325.51,183.18 C326.38,182.21 327.24,181.24 328.09,180.27 C328.95,179.28 329.81,178.29 330.67,177.29 C331.53,176.28 332.39,175.27 333.24,174.25 C334.11,173.22 334.97,172.18 335.82,171.14 C336.69,170.10 337.97,168.51 338.40,167.99" fill="none" stroke="#ff00ff" stroke-width="2.30" stroke-linejoin="round"/>
<rect x="207.35" y="165.97" width="137.05" height="65.45" fill="none" stroke="#000" stroke-width="1.10"/>
<line x1="202.15" y1="229.00" x2="207.35" y2="229.00" stroke="#000" stroke-width="1.10"/>
<text transform="translate(172.84,234.81) scale(0.9868,1)" font-size="16.32">0</text><text transform="translate(182.31,234.75) scale(0.9329,1)" font-size="17.72">.</text><text transform="translate(187.42,234.81) scale(0.9868,1)" font-size="16.32">0</text>
<line x1="202.15" y1="181.81" x2="207.35" y2="181.81" stroke="#000" stroke-width="1.10"/>
<text transform="translate(173.16,187.62) scale(0.9868,1)" font-size="16.32">0</text><text transform="translate(182.63,187.56) scale(0.9329,1)" font-size="17.72">.</text><text transform="translate(187.93,187.62) scale(0.9341,1)" font-size="16.27">5</text>
<line x1="223.10" y1="231.42" x2="223.10" y2="236.62" stroke="#000" stroke-width="1.10"/>
<text transform="translate(211.44,253.58) scale(1.0213,1)" font-size="16.32">6</text><text transform="translate(221.07,253.52) scale(0.9329,1)" font-size="17.72">.</text><text transform="translate(226.18,253.58) scale(0.9868,1)" font-size="16.32">0</text>
<line x1="286.60" y1="231.42" x2="286.60" y2="236.62" stroke="#000" stroke-width="1.10"/>
<text transform="translate(275.20,253.58) scale(1.0213,1)" font-size="16.32">6</text><text transform="translate(284.83,253.52) scale(0.9329,1)" font-size="17.72">.</text><text transform="translate(289.90,253.52) scale(0.9559,1)" font-size="16.24">2</text>
<g transform="rotate(-90)"><text transform="translate(-245.26,163.95) scale(0.9154,1)" font-size="16.19">R</text><text transform="translate(-234.77,164.01) scale(0.9182,1)" font-size="16.02">e</text><text transform="translate(-221.28,164.01) scale(1.0016,1)" font-size="15.95" font-style="italic">σ</text><text transform="translate(-199.84,162.94) scale(0.8779,1)" font-size="14.61">(</text><text transform="translate(-193.77,164.01) scale(0.8238,1)" font-size="15.63" font-style="italic">ω</text><text transform="translate(-180.42,162.94) scale(0.9037,1)" font-size="14.61">)</text><text transform="translate(-175.34,165.20) scale(0.9683,1)" font-size="17.10">/</text><text transform="translate(-170.03,164.01) scale(0.9182,1)" font-size="15.95" font-style="italic">σ</text><text transform="translate(-160.80,166.39) scale(0.7872,1)" font-size="11.43">0</text></g>
<line x1="165.95" y1="203.14" x2="165.95" y2="209.64" stroke="#000" stroke-width="1.0"/>
<line x1="159.45" y1="206.39" x2="165.95" y2="206.39" stroke="#000" stroke-width="1.0"/>
<rect x="207.40" y="319.80" width="137.00" height="65.45" fill="#fff"/>
<path d="M212.20,382.16 C212.63,382.12 213.92,382.00 214.78,381.91 C215.63,381.83 216.49,381.74 217.35,381.65 C218.21,381.56 219.07,381.47 219.93,381.37 C220.79,381.28 221.64,381.18 222.50,381.08 C223.36,380.98 224.22,380.87 225.08,380.76 C225.94,380.66 226.80,380.54 227.65,380.43 C228.51,380.31 229.37,380.19 230.23,380.06 C231.09,379.94 231.95,379.81 232.80,379.67 C233.66,379.53 234.52,379.39 235.38,379.25 C236.24,379.10 237.10,378.95 237.96,378.79 C238.81,378.63 239.67,378.46 240.53,378.29 C241.39,378.12 242.25,377.94 243.11,377.76 C243.97,377.57 244.82,377.38 245.68,377.18 C246.54,376.98 247.40,376.78 248.26,376.56 C249.12,376.35 249.98,376.12 250.83,375.89 C251.69,375.66 252.55,375.42 253.41,375.17 C254.27,374.93 255.13,374.67 255.98,374.40 C256.84,374.14 257.70,373.86 258.56,373.58 C259.42,373.29 260.28,372.99 261.13,372.69 C262.00,372.38 262.85,372.07 263.71,371.74 C264.57,371.42 265.43,371.08 266.29,370.74 C267.15,370.39 268.01,370.04 268.86,369.68 C269.72,369.31 270.58,368.94 271.44,368.56 C272.30,368.17 273.16,367.78 274.01,367.38 C274.87,366.98 275.73,366.56 276.59,366.14 C277.45,365.72 278.31,365.29 279.16,364.85 C280.03,364.41 280.88,363.96 281.74,363.50 C282.60,363.04 283.46,362.58 284.31,362.10 C285.18,361.62 286.04,361.14 286.89,360.64 C287.75,360.15 288.61,359.64 289.47,359.13 C290.33,358.62 291.19,358.09 292.04,357.57 C292.90,357.03 293.76,356.49 294.62,355.95 C295.48,355.39 296.34,354.84 297.19,354.27 C298.05,353.70 298.91,353.13 299.77,352.55 C300.63,351.97 301.49,351.38 302.34,350.78 C303.20,350.18 304.06,349.57 304.92,348.96 C305.78,348.35 306.64,347.73 307.49,347.11 C308.36,346.48 309.21,345.85 310.07,345.21 C310.93,344.57 311.79,343.92 312.64,343.27 C313.51,342.62 314.36,341.97 315.22,341.31 C316.08,340.64 316.94,339.98 317.80,339.31 C318.66,338.63 319.52,337.96 320.37,337.28 C321.23,336.60 322.09,335.91 322.95,335.22 C323.81,334.53 324.67,333.84 325.52,333.15 C326.38,332.45 327.24,331.75 328.10,331.05 C328.96,330.35 329.82,329.64 330.67,328.93 C331.53,328.23 332.39,327.52 333.25,326.80 C334.11,326.09 334.97,325.38 335.82,324.66 C336.68,323.95 337.97,322.87 338.40,322.51" fill="none" stroke="#ffa500" stroke-width="2.30" stroke-linejoin="round"/>
<rect x="207.40" y="319.80" width="137.00" height="65.45" fill="none" stroke="#000" stroke-width="1.10"/>
<line x1="202.20" y1="369.20" x2="207.40" y2="369.20" stroke="#000" stroke-width="1.10"/>
<text transform="translate(173.29,375.01) scale(0.9868,1)" font-size="16.32">0</text><text transform="translate(182.76,374.95) scale(0.9329,1)" font-size="17.72">.</text><text transform="translate(188.00,374.95) scale(0.9502,1)" font-size="16.19">1</text>
<line x1="202.20" y1="344.80" x2="207.40" y2="344.80" stroke="#000" stroke-width="1.10"/>
<text transform="translate(173.41,350.61) scale(0.9868,1)" font-size="16.32">0</text><text transform="translate(182.88,350.55) scale(0.9329,1)" font-size="17.72">.</text><text transform="translate(187.95,350.55) scale(0.9559,1)" font-size="16.24">2</text>
<line x1="202.20" y1="320.50" x2="207.40" y2="320.50" stroke="#000" stroke-width="1.10"/>
<text transform="translate(173.10,326.31) scale(0.9868,1)" font-size="16.32">0</text><text transform="translate(182.57,326.25) scale(0.9329,1)" font-size="17.72">.</text><text transform="translate(187.88,326.31) scale(0.9477,1)" font-size="16.32">3</text>
<line x1="245.60" y1="385.25" x2="245.60" y2="390.45" stroke="#000" stroke-width="1.10"/>
<text transform="translate(234.16,407.41) scale(0.9341,1)" font-size="16.27">5</text><text transform="translate(243.44,407.35) scale(0.9329,1)" font-size="17.72">.</text><text transform="translate(248.54,407.35) scale(0.9949,1)" font-size="16.19">4</text>
<line x1="309.10" y1="385.25" x2="309.10" y2="390.45" stroke="#000" stroke-width="1.10"/>
<text transform="translate(297.71,407.41) scale(0.9341,1)" font-size="16.27">5</text><text transform="translate(306.99,407.35) scale(0.9329,1)" font-size="17.72">.</text><text transform="translate(311.94,407.41) scale(1.0213,1)" font-size="16.32">6</text>
<g transform="rotate(-90)"><text transform="translate(-399.09,164.00) scale(0.9154,1)" font-size="16.19">R</text><text transform="translate(-388.60,164.06) scale(0.9182,1)" font-size="16.02">e</text><text transform="translate(-375.11,164.06) scale(1.0016,1)" font-size="15.95" font-style="italic">σ</text><text transform="translate(-353.67,162.99) scale(0.8779,1)" font-size="14.61">(</text><text transform="translate(-347.60,164.06) scale(0.8238,1)" font-size="15.63" font-style="italic">ω</text><text transform="translate(-334.25,162.99) scale(0.9037,1)" font-size="14.61">)</text><text transform="translate(-329.17,165.25) scale(0.9683,1)" font-size="17.10">/</text><text transform="translate(-323.86,164.06) scale(0.9182,1)" font-size="15.95" font-style="italic">σ</text><text transform="translate(-314.63,166.44) scale(0.7872,1)" font-size="11.43">0</text></g>
<line x1="166.00" y1="356.97" x2="166.00" y2="363.47" stroke="#000" stroke-width="1.0"/>
<line x1="159.50" y1="360.22" x2="166.00" y2="360.22" stroke="#000" stroke-width="1.0"/>
<rect x="527.93" y="473.45" width="136.95" height="65.65" fill="#fff"/>
<path d="M533.10,535.93 C533.53,535.91 534.82,535.87 535.69,535.84 C536.55,535.82 537.41,535.78 538.27,535.75 C539.13,535.71 540.00,535.68 540.86,535.64 C541.72,535.59 542.58,535.55 543.44,535.50 C544.31,535.45 545.17,535.39 546.03,535.33 C546.89,535.27 547.75,535.21 548.61,535.13 C549.48,535.06 550.34,534.98 551.20,534.90 C552.06,534.82 552.92,534.72 553.79,534.63 C554.65,534.53 555.51,534.42 556.37,534.31 C557.23,534.19 558.10,534.07 558.96,533.94 C559.82,533.80 560.68,533.66 561.54,533.51 C562.41,533.36 563.27,533.20 564.13,533.03 C564.99,532.86 565.85,532.68 566.71,532.49 C567.58,532.30 568.44,532.10 569.30,531.88 C570.16,531.67 571.03,531.44 571.89,531.20 C572.75,530.96 573.61,530.71 574.47,530.45 C575.34,530.18 576.20,529.91 577.06,529.62 C577.92,529.33 578.79,529.02 579.64,528.71 C580.51,528.39 581.37,528.06 582.23,527.71 C583.10,527.37 583.96,527.01 584.81,526.63 C585.68,526.26 586.54,525.87 587.40,525.47 C588.27,525.06 589.13,524.64 589.99,524.20 C590.85,523.77 591.72,523.31 592.57,522.85 C593.44,522.38 594.30,521.89 595.16,521.39 C596.03,520.89 596.89,520.37 597.74,519.84 C598.61,519.30 599.47,518.75 600.33,518.18 C601.20,517.61 602.06,517.02 602.91,516.42 C603.78,515.81 604.65,515.19 605.50,514.55 C606.37,513.91 607.23,513.25 608.09,512.58 C608.96,511.90 609.82,511.21 610.67,510.50 C611.54,509.79 612.40,509.06 613.26,508.32 C614.13,507.58 614.99,506.82 615.84,506.06 C616.71,505.28 617.57,504.50 618.43,503.72 C619.29,502.93 620.16,502.13 621.01,501.33 C621.88,500.53 622.74,499.72 623.60,498.91 C624.46,498.10 625.32,497.28 626.19,496.47 C627.05,495.65 627.91,494.84 628.77,494.02 C629.63,493.21 630.49,492.40 631.36,491.59 C632.22,490.80 633.07,490.00 633.94,489.21 C634.80,488.43 635.66,487.66 636.53,486.90 C637.38,486.16 638.24,485.43 639.11,484.71 C639.96,484.02 640.82,483.34 641.70,482.68 C642.55,482.04 643.41,481.42 644.29,480.83 C645.13,480.27 645.99,479.73 646.87,479.23 C647.71,478.75 648.58,478.30 649.46,477.91 C650.30,477.53 651.16,477.18 652.04,476.91 C652.89,476.64 653.76,476.42 654.63,476.28 C655.48,476.14 656.35,476.06 657.21,476.07 C658.08,476.07 659.37,476.27 659.80,476.31" fill="none" stroke="#0000ff" stroke-width="2.30" stroke-linejoin="round"/>
<rect x="527.93" y="473.45" width="136.95" height="65.65" fill="none" stroke="#000" stroke-width="1.10"/>
<line x1="522.73" y1="536.55" x2="527.93" y2="536.55" stroke="#000" stroke-width="1.10"/>
<text transform="translate(493.42,542.36) scale(0.9868,1)" font-size="16.32">0</text><text transform="translate(502.89,542.30) scale(0.9329,1)" font-size="17.72">.</text><text transform="translate(508.00,542.36) scale(0.9868,1)" font-size="16.32">0</text>
<line x1="522.73" y1="493.04" x2="527.93" y2="493.04" stroke="#000" stroke-width="1.10"/>
<text transform="translate(493.94,498.85) scale(0.9868,1)" font-size="16.32">0</text><text transform="translate(503.41,498.79) scale(0.9329,1)" font-size="17.72">.</text><text transform="translate(508.48,498.79) scale(0.9559,1)" font-size="16.24">2</text>
<line x1="585.00" y1="539.10" x2="585.00" y2="544.30" stroke="#000" stroke-width="1.10"/>
<text transform="translate(573.65,561.26) scale(0.9477,1)" font-size="16.32">3</text><text transform="translate(582.92,561.20) scale(0.9329,1)" font-size="17.72">.</text><text transform="translate(588.03,561.26) scale(0.9868,1)" font-size="16.32">0</text>
<line x1="648.90" y1="539.10" x2="648.90" y2="544.30" stroke="#000" stroke-width="1.10"/>
<text transform="translate(637.81,561.26) scale(0.9477,1)" font-size="16.32">3</text><text transform="translate(647.08,561.20) scale(0.9329,1)" font-size="17.72">.</text><text transform="translate(652.15,561.20) scale(0.9559,1)" font-size="16.24">2</text>
<g transform="rotate(-90)"><text transform="translate(-552.84,484.53) scale(0.9154,1)" font-size="16.19">R</text><text transform="translate(-542.35,484.59) scale(0.9182,1)" font-size="16.02">e</text><text transform="translate(-528.86,484.59) scale(1.0016,1)" font-size="15.95" font-style="italic">σ</text><text transform="translate(-507.42,483.52) scale(0.8779,1)" font-size="14.61">(</text><text transform="translate(-501.35,484.59) scale(0.8238,1)" font-size="15.63" font-style="italic">ω</text><text transform="translate(-488.00,483.52) scale(0.9037,1)" font-size="14.61">)</text><text transform="translate(-482.92,485.78) scale(0.9683,1)" font-size="17.10">/</text><text transform="translate(-477.61,484.59) scale(0.9182,1)" font-size="15.95" font-style="italic">σ</text><text transform="translate(-468.38,486.97) scale(0.7872,1)" font-size="11.43">0</text></g>
<line x1="486.53" y1="510.72" x2="486.53" y2="517.22" stroke="#000" stroke-width="1.0"/>
<line x1="480.03" y1="513.97" x2="486.53" y2="513.97" stroke="#000" stroke-width="1.0"/>
</svg></body></html>
